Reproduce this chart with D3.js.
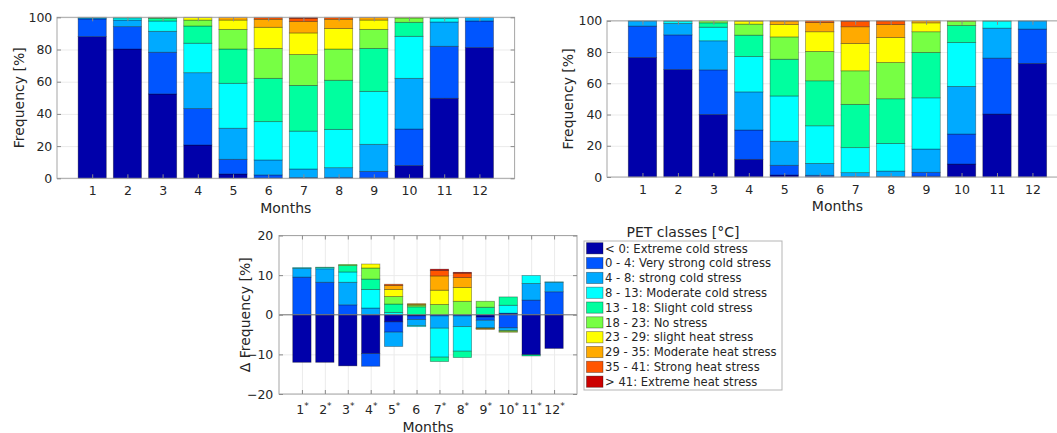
<!DOCTYPE html>
<html><head><meta charset="utf-8">
<script src="https://cdn.jsdelivr.net/npm/d3@7"></script>
<style>
body{margin:0;background:#fff}
svg{display:block}
text{font-family:"DejaVu Sans",sans-serif;fill:#262626}
</style>
</head><body>
<svg id="c" width="1057" height="433"></svg>
<script>
// ---------------- data ----------------
const months = [1,2,3,4,5,6,7,8,9,10,11,12];
const monthStar = [true,true,true,true,true,false,true,true,true,true,true,true];
const classLabels = [
  "< 0: Extreme cold stress",
  "0 - 4: Very strong cold stress",
  "4 - 8: strong cold stress",
  "8 - 13: Moderate cold stress",
  "13 - 18: Slight cold stress",
  "18 - 23: No stress",
  "23 - 29: slight heat stress",
  "29 - 35: Moderate heat stress",
  "35 - 41: Strong heat stress",
  "> 41: Extreme heat stress"
];
const classColors = ["#0000aa","#0055ff","#00aaff","#00ffff","#00ff9f","#77ff44","#ffff00","#ffaa00","#ff5500","#cc0000"];
const freqTicks = [0,20,40,60,80,100];
const diffTicks = [-20,-10,0,10,20];

// rows = months 1..12, columns = PET classes (same order as classLabels)
const freqPeriod1 = [
  [88.0,11.0,0.7,0.3,0,0,0,0,0,0],
  [80.3,13.9,4.1,1.3,0.4,0,0,0,0,0],
  [52.4,25.9,13.0,6.4,1.7,0.5,0.1,0,0,0],
  [20.7,22.6,22.3,18.3,10.7,3.7,1.5,0.2,0,0],
  [2.7,9.1,19.3,27.9,21.3,12.2,5.8,1.6,0.1,0],
  [0.2,1.9,9.3,23.8,26.9,18.6,13.1,5.0,1.1,0.1],
  [0,0.5,5.3,23.5,28.4,19.2,13.4,7.2,1.9,0.6],
  [0,0.6,6.0,23.8,30.5,19.4,12.7,5.8,1.2,0],
  [0.3,4.0,16.8,32.9,26.7,11.8,5.8,1.5,0.2,0],
  [7.9,22.7,31.5,26.1,8.7,2.7,0.4,0,0,0],
  [49.7,32.3,15.1,2.3,0.6,0,0,0,0,0],
  [81.2,16.5,2.2,0.1,0,0,0,0,0,0]
];
const freqPeriod2 = [
  [76.5,20.1,3.3,0.1,0,0,0,0,0,0],
  [68.8,22.2,7.3,1.5,0.2,0,0,0,0,0],
  [40.0,28.6,18.6,8.7,2.8,1.3,0,0,0,0],
  [11.3,18.8,24.4,22.6,13.7,7.1,1.9,0.2,0,0],
  [1.3,6.2,15.4,29.0,23.5,14.3,7.9,2.2,0.2,0],
  [0.2,0.9,7.6,24.1,28.8,18.8,12.6,5.9,1.1,0],
  [0,0.3,2.5,16.0,27.7,21.5,17.5,10.7,3.5,0.3],
  [0,0.3,3.5,17.7,28.6,23.2,16.0,8.4,2.2,0.1],
  [0.5,2.5,14.9,32.8,29.0,13.3,5.7,1.3,0,0],
  [8.3,19.2,30.5,28.1,10.9,2.6,0.4,0,0,0],
  [40.3,35.8,19.2,4.5,0.2,0,0,0,0,0],
  [72.7,22.0,5.2,0.1,0,0,0,0,0,0]
];
const freqChange = [
  [-12.0,9.5,2.2,0.2,0,0,0,0,0,0],
  [-12.0,8.2,3.4,0.3,0.1,0,0,0,0,0],
  [-12.9,2.5,5.7,2.6,1.6,0.3,0,0,0,0],
  [-9.8,-3.2,1.7,4.7,2.6,2.8,1.0,0,0,0],
  [-1.8,-2.6,-3.6,0.6,2.1,1.9,1.8,1.0,0.3,0],
  [-0.3,-0.9,-1.5,-0.3,2.0,0.4,0.2,0.2,0,0],
  [0,-0.3,-3.1,-7.3,-1.1,2.6,3.6,3.6,1.4,0.3],
  [0,-0.3,-2.7,-6.2,-1.6,3.4,3.5,2.5,1.1,0.2],
  [-0.6,-0.8,-1.9,-0.1,1.9,1.5,-0.1,-0.2,0,0],
  [0.4,-3.3,-0.7,2.0,2.1,-0.3,-0.1,0,0,0],
  [-10.1,3.7,4.2,2.0,-0.3,0,0,0,0,0],
  [-8.5,5.8,2.4,0.1,0,0,0,0,0,0]
];

// ---------------- drawing ----------------
const svg = d3.select("#c");
const AX = "#a6a6a6", GRID = "#ebebeb";

function stack(rows){
  const segs = [];
  rows.forEach((row,i)=>{
    let pos=0, neg=0;
    row.forEach((v,k)=>{
      if (v===0) return;
      if (v>0){ segs.push({m:months[i],k,y0:pos,y1:pos+v}); pos+=v; }
      else { segs.push({m:months[i],k,y0:neg+v,y1:neg}); neg+=v; }
    });
  });
  return segs;
}

function panel(cfg){
  const x = d3.scaleLinear().domain([0,13]).range([cfg.left,cfg.right]);
  const y = d3.scaleLinear().domain(cfg.yDomain).range([cfg.bottom,cfg.top]);
  const g = svg.append("g");
  const h = cfg.bottom-cfg.top, w = cfg.right-cfg.left;

  // grid
  g.append("g").attr("transform",`translate(0,${cfg.bottom})`)
    .call(d3.axisBottom(x).tickValues(months).tickSize(-h).tickFormat(""))
    .call(s=>{s.select(".domain").remove(); s.selectAll("line").attr("stroke",GRID);});
  g.append("g").attr("transform",`translate(${cfg.left},0)`)
    .call(d3.axisLeft(y).tickValues(cfg.yTicks).tickSize(-w).tickFormat(""))
    .call(s=>{s.select(".domain").remove(); s.selectAll("line").attr("stroke",GRID);});

  // bars
  const bw = 0.4;
  g.append("g").selectAll("rect").data(stack(cfg.data)).join("rect")
    .attr("x",d=>x(d.m-bw)).attr("width",d=>x(d.m+bw)-x(d.m-bw))
    .attr("y",d=>y(d.y1)).attr("height",d=>y(d.y0)-y(d.y1))
    .attr("fill",d=>classColors[d.k])
    .attr("stroke","#000").attr("stroke-opacity",0.38).attr("stroke-width",0.8);

  if (cfg.zeroLine){
    g.append("line").attr("x1",cfg.left).attr("x2",cfg.right)
      .attr("y1",y(0)).attr("y2",y(0)).attr("stroke","#7a7a7a").attr("stroke-width",1);
  }

  // box
  g.append("rect").attr("x",cfg.left).attr("y",cfg.top).attr("width",w).attr("height",h)
    .attr("fill","none").attr("stroke",AX).attr("stroke-width",1);

  const styleAxis = s=>{ s.select(".domain").remove(); s.selectAll("line").attr("stroke","#8a8a8a");
    s.selectAll("text").attr("font-family","DejaVu Sans").attr("font-size",12.5).attr("fill","#262626"); };

  // bottom axis with labels
  const bx = g.append("g").attr("transform",`translate(0,${cfg.bottom})`)
    .call(d3.axisBottom(x).tickValues(months).tickSizeInner(-4).tickSizeOuter(0).tickPadding(cfg.xPad))
    .call(styleAxis);
  if (cfg.stars){
    bx.selectAll(".tick text").each(function(d,i){
      const t = d3.select(this); t.text(null);
      t.append("tspan").text(String(d));
      if (cfg.stars[i]) t.append("tspan").text("*").attr("font-size",9).attr("dy","-0.55em");
      else t.append("tspan").text("\u2009").attr("font-size",9);
    });
  }
  // top ticks
  g.append("g").attr("transform",`translate(0,${cfg.top})`)
    .call(d3.axisTop(x).tickValues(months).tickSizeInner(-4).tickSizeOuter(0).tickFormat(""))
    .call(styleAxis);
  // left axis
  g.append("g").attr("transform",`translate(${cfg.left},0)`)
    .call(d3.axisLeft(y).tickValues(cfg.yTicks).tickSizeInner(-4).tickSizeOuter(0).tickPadding(cfg.yPad))
    .call(styleAxis);
  // right ticks
  g.append("g").attr("transform",`translate(${cfg.right},0)`)
    .call(d3.axisRight(y).tickValues(cfg.yTicks).tickSizeInner(-4).tickSizeOuter(0).tickFormat(""))
    .call(styleAxis);

  // axis titles
  g.append("text").attr("x",x(6.5)).attr("y",cfg.monthsY).attr("text-anchor","middle")
    .attr("font-size",14).text("Months");
  g.append("text").attr("transform",`translate(${cfg.ylabX},${(cfg.top+cfg.bottom)/2}) rotate(-90)`)
    .attr("text-anchor","middle").attr("font-size",14).text(cfg.ylabel);
}

panel({left:57,right:514.6,top:17.3,bottom:178.3,yDomain:[0,100],yTicks:freqTicks,data:freqPeriod1,
  xPad:8.3,yPad:4.7,monthsY:212.5,ylabX:23.5,ylabel:"Frequency [%]"});
panel({left:607,right:1067.9,top:20.8,bottom:177,yDomain:[0,100],yTicks:freqTicks,data:freqPeriod2,
  xPad:7.9,yPad:4.7,monthsY:211,ylabX:573.3,ylabel:"Frequency [%]"});
panel({left:279,right:577,top:235.5,bottom:394,yDomain:[-20,20],yTicks:diffTicks,data:freqChange,
  xPad:11.5,yPad:5.7,monthsY:431.5,ylabX:250,ylabel:"\u0394 Frequency [%]",stars:monthStar,zeroLine:true});

// legend
const lg = svg.append("g");
const lx = 584, ly = 241, lw = 198, lh = 149, rowH = 14.82, row0 = 248.3;
lg.append("text").attr("x",683).attr("y",237).attr("text-anchor","middle").attr("font-size",14).text("PET classes [\u00b0C]");
lg.append("rect").attr("x",lx).attr("y",ly).attr("width",lw).attr("height",lh)
  .attr("fill","#fff").attr("stroke","#b5b5b5").attr("stroke-width",1);
const ly_ = d3.scaleLinear().domain([0,9]).range([row0,row0+9*rowH]);
lg.selectAll("rect.sw").data(classLabels).join("rect").attr("class","sw")
  .attr("x",586.5).attr("y",(d,i)=>ly_(i)-5.6).attr("width",16.5).attr("height",11.2)
  .attr("fill",(d,i)=>classColors[i]).attr("stroke","#000").attr("stroke-opacity",0.4).attr("stroke-width",0.8);
lg.selectAll("text.lt").data(classLabels).join("text").attr("class","lt")
  .attr("x",605).attr("y",(d,i)=>ly_(i)+4.2).attr("font-size",11.6).text(d=>d);
</script>
</body></html>
